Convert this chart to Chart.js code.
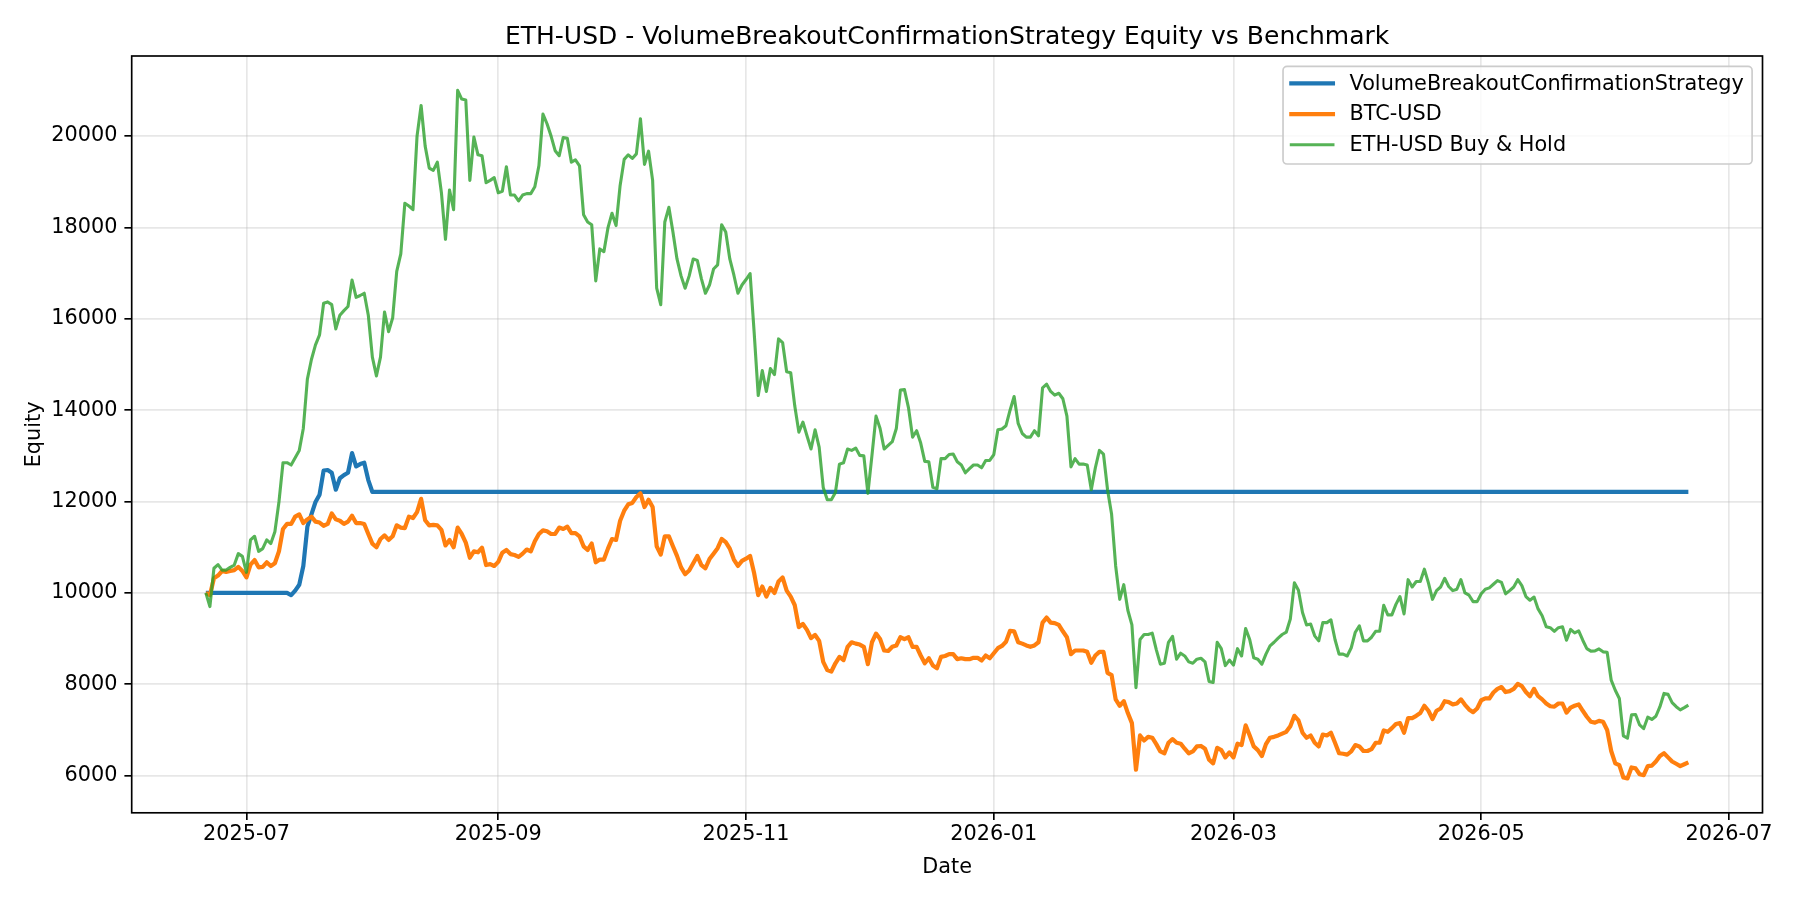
<!DOCTYPE html>
<html lang="en">
<head>
<meta charset="UTF-8">
<title>ETH-USD - VolumeBreakoutConfirmationStrategy Equity vs Benchmark</title>
<script src="https://cdn.jsdelivr.net/npm/chart.js"></script>
<style>
  html, body { margin: 0; padding: 0; background: #ffffff; }
  #wrap { width: 1800px; height: 900px; }
</style>
</head>
<body>
<div id="wrap"><canvas id="equityChart" width="1800" height="900"></canvas></div>
<script>
  // x = days counted from 2025-07-01; series run daily from 2025-06-21 (day -10) to 2026-06-21 (day 355)
  const firstDay = -10;

  const chartTitle = 'ETH-USD - VolumeBreakoutConfirmationStrategy Equity vs Benchmark';
  const tickDays = [0, 62, 123, 184, 243, 304, 365];
  const tickLabels = ['2025-07', '2025-09', '2025-11', '2026-01', '2026-03', '2026-05', '2026-07'];
  const equityTicks = [6000, 8000, 10000, 12000, 14000, 16000, 18000, 20000];

  // strategy only moves in July 2025, then sits flat in cash
  const strategyDays = [-10, 10, 11, 12, 13, 14, 15, 16, 17, 18, 19, 20, 21, 22, 23, 24, 25, 26, 27, 28, 29, 30, 31, 355];
  const strategyValues = [10000, 10000, 9950, 10050, 10180, 10590, 11450, 11720, 11990, 12150, 12680, 12690,
    12630, 12260, 12510, 12580, 12630, 13060, 12770, 12820, 12850, 12470, 12210, 12210];

  const btcValues = [
    10000, 9950, 10320, 10380, 10480, 10460, 10480, 10500, 10570, 10480,   // -10..-1
    10340, 10620, 10720, 10560, 10570, 10670, 10590, 10650, 10910, 11400,  // 0..9
    11510, 11510, 11670, 11720, 11530, 11610, 11670, 11560, 11540, 11470,  // 10..19
    11510, 11740, 11610, 11580, 11510, 11560, 11690, 11530, 11530, 11510,  // 20..29
    11290, 11080, 11000, 11180, 11260, 11160, 11240, 11480, 11430, 11420,  // 30..39
    11670, 11640, 11770, 12060, 11590, 11480, 11490, 11480, 11380, 11040,  // 40..49
    11160, 11000, 11430, 11290, 11100, 10770, 10910, 10890, 10990, 10610,  // 50..59
    10630, 10590, 10680, 10880, 10940, 10850, 10830, 10790, 10860, 10950,  // 60..69
    10910, 11130, 11290, 11370, 11350, 11290, 11290, 11430, 11400, 11450,  // 70..79
    11310, 11310, 11240, 11020, 10940, 11080, 10670, 10730, 10730, 10970,  // 80..89
    11180, 11160, 11580, 11800, 11940, 11970, 12100, 12180, 11880, 12040,  // 90..99
    11880, 11020, 10840, 11240, 11240, 11020, 10810, 10560, 10410, 10490,  // 100..109
    10650, 10810, 10610, 10540, 10740, 10860, 10980, 11180, 11110, 10970,  // 110..119
    10730, 10590, 10700, 10750, 10810, 10430, 9950, 10140, 9920, 10110,    // 120..129
    10000, 10250, 10340, 10050, 9920, 9730, 9250, 9320, 9190, 9010,        // 130..139
    9080, 8950, 8490, 8310, 8280, 8460, 8600, 8530, 8820, 8920,            // 140..149
    8890, 8870, 8820, 8440, 8920, 9110, 8990, 8740, 8730, 8820,            // 150..159
    8850, 9030, 8990, 9030, 8820, 8820, 8630, 8460, 8570, 8410,            // 160..169
    8350, 8600, 8620, 8660, 8660, 8550, 8570, 8550, 8550, 8580,            // 170..179
    8580, 8520, 8630, 8570, 8680, 8790, 8840, 8930, 9170, 9160,            // 180..189
    8920, 8890, 8850, 8820, 8850, 8920, 9350, 9460, 9350, 9340,            // 190..199
    9300, 9160, 9030, 8660, 8740, 8740, 8740, 8710, 8470, 8630,            // 200..209
    8710, 8710, 8250, 8200, 7670, 7530, 7630, 7370, 7150, 6130,            // 210..219
    6880, 6770, 6850, 6830, 6690, 6530, 6490, 6720, 6800, 6720,            // 220..229
    6700, 6590, 6490, 6530, 6640, 6650, 6590, 6350, 6270, 6610,            // 230..239
    6560, 6400, 6510, 6400, 6700, 6670, 7100, 6880, 6640, 6560,            // 240..249
    6430, 6690, 6830, 6850, 6880, 6920, 6960, 7080, 7310, 7210,            // 250..259
    6940, 6830, 6880, 6720, 6640, 6900, 6880, 6940, 6720, 6490,            // 260..269
    6480, 6460, 6530, 6670, 6640, 6540, 6540, 6580, 6720, 6720,            // 270..279
    6990, 6960, 7040, 7130, 7150, 6940, 7260, 7260, 7310, 7370,            // 280..289
    7530, 7420, 7240, 7420, 7470, 7630, 7610, 7560, 7580, 7670,            // 290..299
    7550, 7450, 7390, 7470, 7650, 7690, 7690, 7820, 7900, 7940,            // 300..309
    7830, 7850, 7900, 8010, 7960, 7830, 7740, 7900, 7740, 7670,            // 310..319
    7580, 7520, 7510, 7580, 7580, 7380, 7490, 7530, 7560, 7420,            // 320..329
    7290, 7180, 7160, 7200, 7180, 7000, 6540, 6270, 6230, 5960,            // 330..339
    5940, 6180, 6160, 6030, 6010, 6210, 6220, 6310, 6430, 6490,            // 340..349
    6400, 6310, 6260, 6210, 6250, 6290                                     // 350..355
  ];

  const ethValues = [
    10000, 9700, 10540, 10620, 10500, 10500, 10560, 10610, 10860, 10800,   // -10..-1
    10450, 11160, 11240, 10910, 10970, 11160, 11080, 11340, 11990, 12850,  // 0..9
    12850, 12800, 12960, 13120, 13600, 14680, 15110, 15430, 15650, 16340,  // 10..19
    16370, 16310, 15780, 16080, 16180, 16270, 16850, 16470, 16510, 16560,  // 20..29
    16080, 15160, 14750, 15160, 16150, 15720, 16020, 17040, 17420, 18530,  // 30..39
    18470, 18390, 20000, 20670, 19780, 19300, 19250, 19430, 18760, 17740,  // 40..49
    18820, 18390, 21000, 20810, 20790, 19030, 19980, 19590, 19570, 18980,  // 50..59
    19030, 19090, 18760, 18790, 19330, 18710, 18710, 18580, 18710, 18740,  // 60..69
    18740, 18890, 19350, 20480, 20270, 20000, 19680, 19570, 19970, 19950,  // 70..79
    19430, 19480, 19350, 18280, 18120, 18060, 16830, 17530, 17470, 17990,  // 80..89
    18310, 18040, 18920, 19490, 19590, 19510, 19610, 20380, 19380, 19670,  // 90..99
    19030, 16670, 16310, 18120, 18440, 17900, 17310, 16940, 16670, 16940,  // 100..109
    17310, 17280, 16880, 16560, 16740, 17090, 17180, 18060, 17900, 17310,  // 110..119
    16960, 16560, 16740, 16860, 16990, 15700, 14320, 14870, 14410, 14910,  // 120..129
    14780, 15560, 15480, 14840, 14820, 14090, 13520, 13740, 13440, 13150,  // 130..139
    13570, 13190, 12310, 12040, 12040, 12200, 12820, 12850, 13150, 13120,  // 140..149
    13170, 13010, 13000, 12180, 13010, 13870, 13600, 13150, 13230, 13310,  // 150..159
    13600, 14440, 14450, 14050, 13410, 13550, 13280, 12880, 12870, 12310,  // 160..169
    12280, 12940, 12940, 13030, 13040, 12870, 12800, 12630, 12720, 12800,  // 170..179
    12800, 12740, 12900, 12900, 13030, 13570, 13590, 13660, 14000, 14300,  // 180..189
    13710, 13490, 13410, 13410, 13550, 13440, 14490, 14570, 14410, 14330,  // 190..199
    14370, 14250, 13870, 12760, 12940, 12820, 12820, 12800, 12260, 12740,  // 200..209
    13120, 13040, 12260, 11720, 10590, 9860, 10180, 9620, 9300, 7925,      // 210..219
    8980, 9090, 9090, 9120, 8760, 8440, 8460, 8920, 9050, 8550,            // 220..229
    8680, 8620, 8490, 8460, 8550, 8570, 8490, 8060, 8040, 8920,            // 230..239
    8780, 8410, 8530, 8420, 8780, 8620, 9220, 8980, 8580, 8550,            // 240..249
    8440, 8660, 8840, 8920, 9010, 9090, 9140, 9430, 10220, 10060,          // 250..259
    9570, 9300, 9320, 9060, 8950, 9350, 9350, 9410, 8980, 8660,            // 260..269
    8660, 8620, 8800, 9140, 9280, 8950, 8950, 9030, 9160, 9160,            // 270..279
    9730, 9520, 9520, 9750, 9920, 9540, 10290, 10130, 10250, 10250,        // 280..289
    10520, 10220, 9860, 10050, 10130, 10320, 10140, 10050, 10080, 10290,   // 290..299
    10000, 9950, 9810, 9810, 9980, 10080, 10110, 10190, 10270, 10230,      // 300..309
    9980, 10050, 10130, 10290, 10160, 9920, 9840, 9910, 9650, 9500,        // 310..319
    9260, 9240, 9160, 9240, 9260, 8965, 9200, 9125, 9170, 8965,            // 320..329
    8780, 8725, 8730, 8775, 8710, 8700, 8090, 7870, 7690, 6870,            // 330..339
    6820, 7330, 7340, 7110, 7030, 7280, 7230, 7300, 7510, 7800,            // 340..349
    7780, 7600, 7510, 7440, 7490, 7545                                     // 350..355
  ];

  const seriesNames = ['VolumeBreakoutConfirmationStrategy', 'BTC-USD', 'ETH-USD Buy & Hold'];
  const seriesColors = ['#1f77b4', '#ff7f0e', 'rgba(44,160,44,0.8)'];
  const seriesWidths = [4.2, 4.2, 3.1];

  const FONT = 'DejaVu Sans';
  Chart.defaults.font.family = FONT;
  Chart.defaults.color = '#000';

  const daily = values => values.map((v, i) => ({ x: firstDay + i, y: v }));

  // matplotlib-like box around the axes (all four spines)
  const frame = {
    id: 'frame',
    afterDatasetsDraw(chart) {
      const { ctx, chartArea: a } = chart;
      ctx.save();
      ctx.strokeStyle = '#000';
      ctx.lineWidth = 1.67;
      ctx.strokeRect(a.left, a.top, a.right - a.left, a.bottom - a.top);
      ctx.restore();
    }
  };

  // title centred over the plot area, not the whole canvas
  const axesTitle = {
    id: 'axesTitle',
    afterDraw(chart) {
      const { ctx, chartArea: a } = chart;
      ctx.save();
      ctx.font = '25px "' + FONT + '"';
      ctx.fillStyle = '#000';
      ctx.textAlign = 'center';
      ctx.textBaseline = 'middle';
      ctx.fillText(chartTitle, (a.left + a.right) / 2, 37.5);
      ctx.restore();
    }
  };

  // legend drawn inside the plot, upper right
  const insideLegend = {
    id: 'insideLegend',
    afterDraw(chart) {
      const { ctx, chartArea: a } = chart;
      const fs = 20.8;
      ctx.save();
      ctx.font = fs + 'px "' + FONT + '"';
      const textW = Math.max(...seriesNames.map(n => ctx.measureText(n).width));
      const w = 8.3 + 41.6 + 16.6 + textW + 8.3;
      const h = 97.6;
      const right = a.right - 10.4;
      const top = a.top + 10.4;
      const left = right - w;

      ctx.beginPath();
      ctx.roundRect(left, top, w, h, 4);
      ctx.fillStyle = 'rgba(255,255,255,0.8)';
      ctx.fill();
      ctx.strokeStyle = '#cccccc';
      ctx.lineWidth = 1.67;
      ctx.stroke();

      seriesNames.forEach((name, i) => {
        const cy = top + 17 + i * 30.65;
        ctx.beginPath();
        ctx.moveTo(left + 8.3, cy);
        ctx.lineTo(left + 8.3 + 41.6, cy);
        ctx.strokeStyle = seriesColors[i];
        ctx.lineWidth = seriesWidths[i];
        ctx.lineCap = 'square';
        ctx.stroke();
        ctx.fillStyle = '#000';
        ctx.textBaseline = 'middle';
        ctx.textAlign = 'left';
        ctx.fillText(name, left + 8.3 + 41.6 + 16.6, cy + 1);
      });
      ctx.restore();
    }
  };

  new Chart(document.getElementById('equityChart').getContext('2d'), {
    type: 'line',
    data: {
      datasets: [
        {
          label: seriesNames[0],
          data: strategyDays.map((d, i) => ({ x: d, y: strategyValues[i] })),
          borderColor: seriesColors[0],
          borderWidth: seriesWidths[0],
          order: 2
        },
        {
          label: seriesNames[1],
          data: daily(btcValues),
          borderColor: seriesColors[1],
          borderWidth: seriesWidths[1],
          order: 1
        },
        {
          label: seriesNames[2],
          data: daily(ethValues),
          borderColor: seriesColors[2],
          borderWidth: seriesWidths[2],
          order: 0
        }
      ]
    },
    options: {
      responsive: false,
      animation: false,
      events: [],
      elements: {
        point: { radius: 0 },
        line: { tension: 0, borderJoinStyle: 'round', fill: false }
      },
      layout: { padding: { left: 0, right: 37.5, top: 56, bottom: 0 } },
      plugins: {
        legend: { display: false },
        tooltip: { enabled: false },
        title: { display: false }
      },
      scales: {
        x: {
          type: 'linear',
          min: -28.25,
          max: 373.25,
          afterBuildTicks: axis => { axis.ticks = tickDays.map(v => ({ value: v })); },
          afterFit: scale => { scale.height = 87.2; },
          ticks: {
            autoSkip: false,
            maxRotation: 0,
            padding: 2,
            color: '#000',
            font: { size: 20.8 },
            callback: v => tickLabels[tickDays.indexOf(v)] ?? ''
          },
          grid: {
            color: 'rgba(176,176,176,0.3)',
            lineWidth: 1.67,
            tickColor: '#000',
            tickWidth: 1.67,
            tickLength: 7.3
          },
          border: { display: false },
          title: {
            display: true,
            text: 'Date',
            color: '#000',
            font: { size: 20.8 },
            padding: { top: 0, bottom: 20 }
          }
        },
        y: {
          type: 'linear',
          min: 5187,
          max: 21753,
          afterBuildTicks: axis => { axis.ticks = equityTicks.map(v => ({ value: v })); },
          afterFit: scale => { scale.width = 131.7; },
          ticks: {
            padding: 7,
            color: '#000',
            font: { size: 20.8 },
            callback: v => String(v)
          },
          grid: {
            color: 'rgba(176,176,176,0.3)',
            lineWidth: 1.67,
            tickColor: '#000',
            tickWidth: 1.67,
            tickLength: 7.3
          },
          border: { display: false },
          title: {
            display: true,
            text: 'Equity',
            color: '#000',
            font: { size: 20.8 },
            padding: { top: 22, bottom: 0 }
          }
        }
      }
    },
    plugins: [frame, axesTitle, insideLegend]
  });
</script>
</body>
</html>
